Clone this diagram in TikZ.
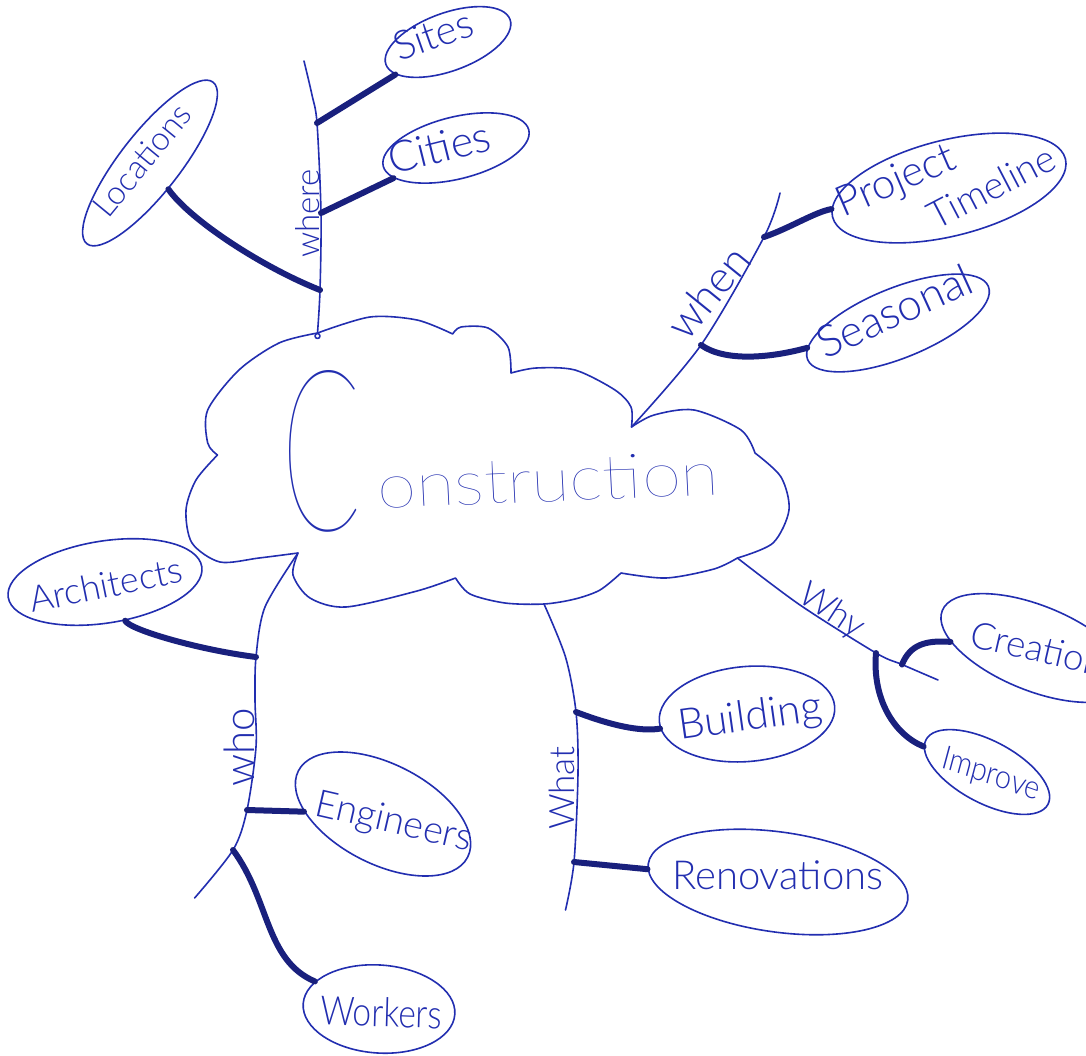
\documentclass[tikz,border=0pt]{standalone}
\usepackage{fontspec}
\usetikzlibrary{shapes.geometric}
% pen-like light faces, falling back to the regular face
\IfFontExistsTF{Lato Light}{\newfontfamily\penfont{Lato Light}}{\newfontfamily\penfont{Lato}}
\IfFontExistsTF{Lato Thin}{\newfontfamily\thinfont{Lato Thin}}{\newfontfamily\thinfont{Lato}}
\IfFontExistsTF{Lato Hairline}{\newfontfamily\hairfont{Lato Hairline}}{\newfontfamily\hairfont{Lato}}
\definecolor{ink}{RGB}{34,46,176}
\definecolor{inkd}{RGB}{25,32,125}
\begin{document}
\begin{tikzpicture}[x=1pt,y=-1pt,
  pen/.style={draw=ink, line width=1.6pt, line cap=round, line join=round},
  stem/.style={draw=inkd, line width=6pt, line cap=round},
  bub/.style={ellipse, draw=ink, line width=1.6pt, inner sep=0pt},
  hand/.style={text=ink, inner sep=0pt, anchor=base west,
    font=\penfont\fontsize{#1}{#1}\selectfont},
]
\clip (0,0) rectangle (1086,1055);
\fill[white] (0,0) rectangle (1086,1055);

% ---------- central cloud ----------
\coordinate (n1) at (317.5,333);
\coordinate (n2) at (452.7,334);
\coordinate (n3) at (511,373);
\coordinate (n4) at (631.5,427);
\coordinate (n5) at (755,453);
\coordinate (n6) at (737.4,558);
\coordinate (n7) at (621,573);
\coordinate (n11) at (544,604);
\coordinate (n8) at (455.5,578);
\coordinate (n9) at (298,553);
\coordinate (n10) at (217.5,455);

\draw[pen]
  plot[smooth] coordinates {(n1) (370,317) (417,320) (n2)}
  plot[smooth] coordinates {(n2) (461,327) (488,328) (508,347) (n3)}
  plot[smooth] coordinates {(n3) (536,368) (575,370) (615,390) (631,407) (n4)}
  plot[smooth] coordinates {(n4) (654,415) (694,410) (741,430) (n5)}
  plot[smooth] coordinates {(n5) (781,477) (789,510) (773,543) (n6)}
  plot[smooth] coordinates {(n6) (714,569) (666,578) (n7)}
  plot[smooth] coordinates {(n7) (600,590) (575,599) (n11) (505,603) (470,594) (n8)}
  plot[smooth] coordinates {(n8) (417,591) (346,607) (310,598) (293,575) (n9)}
  plot[smooth] coordinates {(n9) (259,558) (220,562) (192,543) (186,510) (196,480) (n10)}
  plot[smooth] coordinates {(n10) (207.7,443) (207.7,410) (239,370) (279,343) (n1)};
\draw[pen] (317.5,336) circle (2.5);

\node[text=ink, inner sep=0pt, anchor=base west, xscale=0.52,
  font=\hairfont\fontsize{226}{226}\selectfont] (bigC) at (281,530) {C};
\node[text=ink, inner sep=0pt, anchor=base west, xscale=1.14, rotate=2.5,
  font=\thinfont\fontsize{62}{62}\selectfont] (title) at (378,508) {onstruction};

% ---------- branch lines ----------
\coordinate (wh1) at (317,123);
\coordinate (wh2) at (321,213);
\coordinate (wh3) at (320,290);
\coordinate (whT) at (304,61);
\draw[pen] plot[smooth] coordinates {(n1) (wh3) (wh2) (wh1) (312,95) (whT)};

\coordinate (wn1) at (764,237);
\coordinate (wn2) at (701,345);
\coordinate (wnT) at (780,193);
\draw[pen] plot[smooth] coordinates {(n4) (wn2) (wn1) (wnT)};

\coordinate (wo1) at (256,657);
\coordinate (wo2) at (247,810);
\coordinate (wo3) at (233,850);
\coordinate (woT) at (194.6,898);
\draw[pen] plot[smooth] coordinates {(n9) (265,607) (wo1) (255,700) (256,747) (wo2) (wo3) (woT)};

\coordinate (wa1) at (576,712);
\coordinate (wa2) at (574,862);
\coordinate (waT) at (565.5,910);
\draw[pen] plot[smooth] coordinates {(n11) (565.5,657) (wa1) (578,773) (wa2) (waT)};

\coordinate (wy1) at (876,653);
\coordinate (wy2) at (902,664.5);
\coordinate (wyT) at (938,680);
\draw[pen] plot[smooth] coordinates {(n6) (800,605) (wy1) (wy2) (wyT)};

% branch labels
\node[hand=33, rotate=90] (lwhere) at (319,258) {where};
\node[hand=44, rotate=51] (lwhen) at (687,343) {when};
\node[hand=42, rotate=90] (lwho) at (254,787) {who};
\node[hand=35, rotate=90] (lwhat) at (574,830) {What};
\node[hand=35, rotate=-33] (lwhy) at (796,600) {Why};

% ---------- bubbles ----------
\node[bub, minimum width=132pt, minimum height=58pt, rotate=20] (sites) at (448,42) {};
\node[hand=40, rotate=19.5] (tsites) at (399,62) {Sites};

\node[bub, minimum width=150pt, minimum height=62pt, rotate=14] (cities) at (456,148) {};
\node[hand=43, rotate=14] (tcities) at (392,175) {Cities};

\node[bub, minimum width=205pt, minimum height=60pt, rotate=52] (loc) at (150,163) {};
\node[hand=33, rotate=50.5] (tloc) at (108,220) {Locations};

\node[bub, minimum width=240pt, minimum height=96pt, rotate=14] (proj) at (949,188) {};
\node[hand=42, rotate=23.5] (tproj) at (843,218) {Project};
\node[hand=38, rotate=27.5] (ttime) at (936,231) {Timeline};

\node[bub, minimum width=195pt, minimum height=70pt, rotate=22] (seas) at (898,323) {};
\node[hand=44, rotate=24.5] (tseas) at (825,360) {Seasonal};

\node[bub, minimum width=196pt, minimum height=82pt, rotate=9] (arch) at (105,582) {};
\node[hand=36, rotate=11.5] (tarch) at (32,613) {Architects};

\node[bub, minimum width=190pt, minimum height=100pt, rotate=-27] (eng) at (383,814) {};
\node[hand=38, rotate=-13] (teng) at (313,815) {Engineers};

\node[bub, minimum width=152pt, minimum height=88pt, rotate=-4] (work) at (379,1009) {};
\node[hand=40, xscale=0.84, rotate=-2] (twork) at (320,1024) {Workers};

\node[bub, minimum width=176pt, minimum height=95pt, rotate=5] (build) at (747,714) {};
\node[hand=42, rotate=8] (tbuild) at (680,740) {Building};

\node[bub, minimum width=262pt, minimum height=100pt, rotate=-8] (reno) at (778,882) {};
\node[hand=40] (treno) at (672,889) {Renovations};

\node[bub, minimum width=200pt, minimum height=85pt, rotate=-22] (crea) at (1035,648) {};
\node[hand=37, rotate=-13] (tcrea) at (968,646) {Creation};

\node[bub, minimum width=138pt, minimum height=62pt, rotate=-28] (impr) at (987,772) {};
\node[hand=33, xscale=0.88, rotate=-17] (timpr) at (940,767) {Improve};

% ---------- thick connectors ----------
\draw[stem] (wh1) -- (sites);
\draw[stem] (wh2) -- (cities);
\draw[stem] (wh3) .. controls (262,267) and (190,220) .. (loc);
\draw[stem] (wn1) .. controls (790,228) and (815,212) .. (proj);
\draw[stem] (wn2) .. controls (725,362) and (770,358) .. (seas);
\draw[stem] (wo1) .. controls (200,650) and (130,630) .. (arch);
\draw[stem] (wo2) -- (eng);
\draw[stem] (wo3) .. controls (270,900) and (265,960) .. (work);
\draw[stem] (wa1) .. controls (610,725) and (640,732) .. (build);
\draw[stem] (wa2) -- (reno);
\draw[stem] (wy2) .. controls (910,645) and (925,640) .. (crea);
\draw[stem] (wy1) .. controls (872,700) and (895,735) .. (impr);
\end{tikzpicture}
\end{document}
